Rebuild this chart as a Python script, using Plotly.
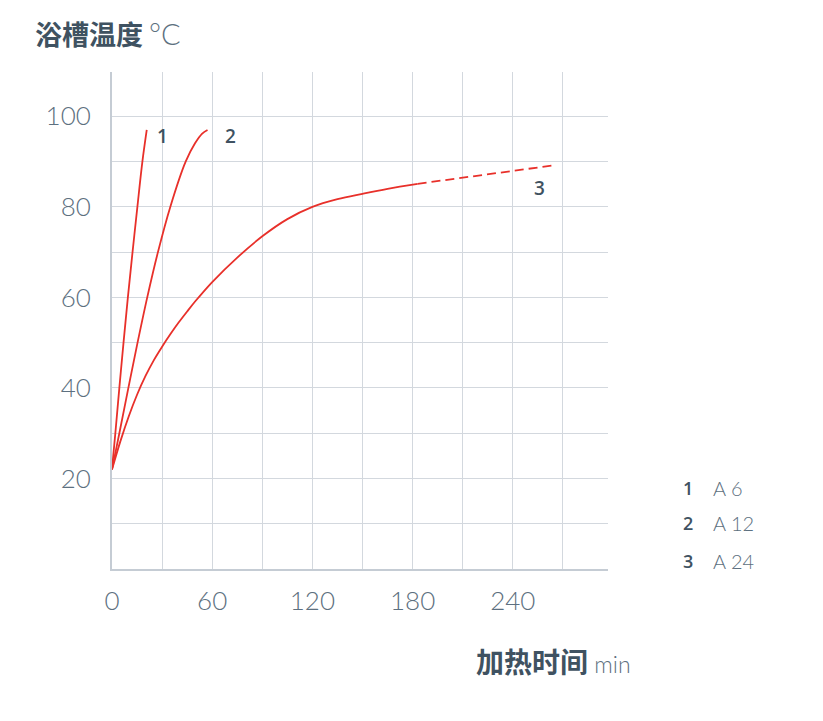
import plotly.graph_objects as go

# Data (minutes, °C)
c1_t = [0, 2.0, 4.4, 6.9, 9.5, 12.3, 15.2, 18.2, 20.8]
c1_T = [22, 30, 40, 50, 60, 70, 80, 90, 97]
c2_t = [0, 4.4, 9.8, 15.3, 21.1, 27.5, 34.9, 44.1, 49.8, 54.0, 57.2]
c2_T = [22, 30, 40, 50, 60, 70, 80, 90, 94.1, 96.2, 97]
c3_t = [0, 5, 10, 15, 20, 25, 30, 35, 40, 45, 50, 60, 75, 90, 105, 120, 135, 150, 165, 183]
c3_T = [22, 28.2, 33.7, 38.5, 42.6, 46.1, 49.1, 51.9, 54.5, 56.9, 59.2, 63.4, 68.8, 73.5,
        77.3, 80.0, 81.7, 82.9, 84.0, 85.1]
c3_ext_t = [183, 265]
c3_ext_T = [85.1, 89.2]

x_tickvals = [0, 30, 60, 90, 120, 150, 180, 210, 240, 270]
x_ticktext = ["0", "", "60", "", "120", "", "180", "", "240", ""]
y_tickvals = [0, 10, 20, 30, 40, 50, 60, 70, 80, 90, 100]
y_ticktext = ["", "", "20", "", "40", "", "60", "", "80", "", "100"]

curve_labels = ["1", "2", "3"]
label_t = [30, 71, 256]
label_T = [95.7, 95.7, 84.2]
legend_num = ["1", "2", "3"]
legend_txt = ["A 6", "A 12", "A 24"]

RED = "#e8302a"
DARK = "#3f5261"
LIGHT = "#5d7080"
GRID = "#d3d8de"

fig = go.Figure()
for t, T in [(c1_t, c1_T), (c2_t, c2_T), (c3_t, c3_T)]:
    fig.add_trace(go.Scatter(x=t, y=T, mode="lines",
                             line=dict(color=RED, width=1.8, shape="spline", smoothing=1.0),
                             hoverinfo="skip", showlegend=False))
fig.add_trace(go.Scatter(x=c3_ext_t, y=c3_ext_T, mode="lines",
                         line=dict(color=RED, width=1.8, dash="9px,5px"),
                         hoverinfo="skip", showlegend=False))

annotations = []
for lab, t, T in zip(curve_labels, label_t, label_T):
    annotations.append(dict(x=t, y=T, xref="x", yref="y", text=lab, showarrow=False,
                            font=dict(family="Open Sans", size=19, color=DARK, weight=600)))

# page is offset by the 8px body margin; layout in page pixels minus 8
OFF = 8
L, R, Tp, B = 112 - OFF, 608 - OFF, 72 - OFF, 569 - OFF
def px(x):
    return (x - OFF - L) / (R - L)
def py(y):
    return (B - (y - OFF)) / (B - Tp)

legend_y = [488, 523, 561]
for n, txt, y in zip(legend_num, legend_txt, legend_y):
    annotations.append(dict(x=px(688), y=py(y), xref="paper", yref="paper", text=n,
                            showarrow=False, xanchor="center", yanchor="middle",
                            font=dict(family="Open Sans", size=18, color=DARK, weight=600)))
    annotations.append(dict(x=px(711), y=py(y), xref="paper", yref="paper", text=txt,
                            showarrow=False, xanchor="left", yanchor="middle",
                            font=dict(family="Lato", size=20, color=LIGHT, weight=300)))

annotations.append(dict(x=px(33), y=py(33), xref="paper", yref="paper",
                        text="<b>浴槽温度</b> <span style='font-family:Lato;font-weight:300;font-size:29px;color:%s'>°C</span>" % LIGHT,
                        showarrow=False, xanchor="left", yanchor="middle",
                        font=dict(family="Noto Sans CJK SC", size=27, color=DARK)))
annotations.append(dict(x=px(474), y=py(661), xref="paper", yref="paper",
                        text="<b>加热时间</b> <span style='font-family:Lato;font-weight:300;font-size:23px;color:%s'>min</span>" % LIGHT,
                        showarrow=False, xanchor="left", yanchor="middle",
                        font=dict(family="Noto Sans CJK SC", size=28, color=DARK)))

fig.update_layout(
    width=823, height=721,
    margin=dict(l=L, r=823 - R, t=Tp, b=721 - B),
    paper_bgcolor="white", plot_bgcolor="white",
    annotations=annotations,
    xaxis=dict(range=[0, 297], tickvals=x_tickvals, ticktext=x_ticktext,
               showgrid=True, gridcolor=GRID, gridwidth=1,
               showline=True, linecolor="#c5ccd4", linewidth=2,
               zeroline=False, ticks="", ticklabelstandoff=8,
               tickfont=dict(family="Lato", size=26, color=LIGHT, weight=300)),
    yaxis=dict(range=[0, 109.8], tickvals=y_tickvals, ticktext=y_ticktext,
               showgrid=True, gridcolor=GRID, gridwidth=1,
               showline=True, linecolor="#c5ccd4", linewidth=2,
               zeroline=False, ticks="", ticklabelstandoff=14,
               tickfont=dict(family="Lato", size=26, color=LIGHT, weight=300)),
)

fig.write_html("out.html")
